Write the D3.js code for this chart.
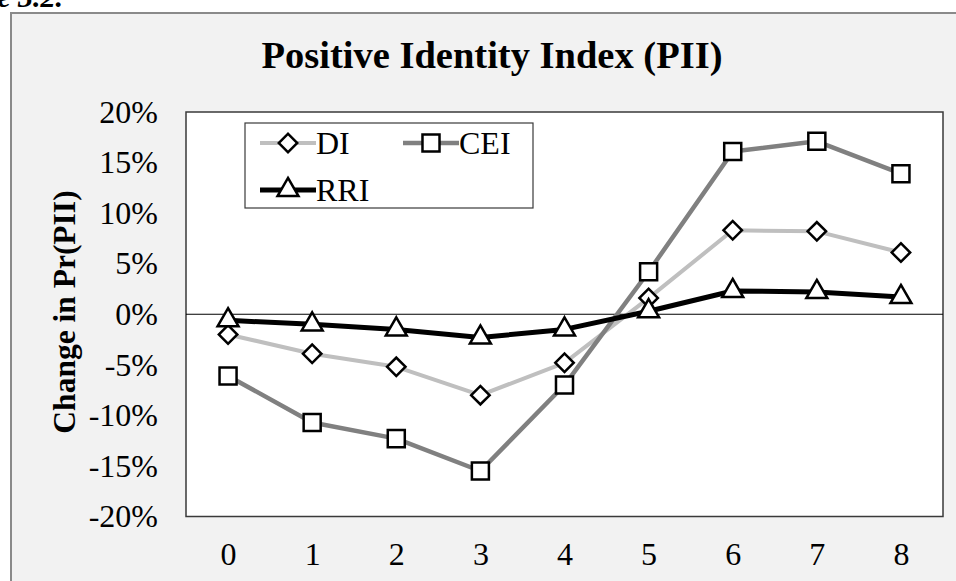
<!DOCTYPE html>
<html>
<head>
<meta charset="utf-8">
<title>Positive Identity Index (PII)</title>
<script src="https://d3js.org/d3.v7.min.js"></script>
<style>
  body { margin: 0; background: #ffffff; }
  svg { display: block; }
  .tick text { font-family: "Liberation Serif", "Times New Roman", serif; fill: #000; }
</style>
</head>
<body>
<div id="chart"></div>
<script>
// chart values (percent)
var categories = ["0", "1", "2", "3", "4", "5", "6", "7", "8"];
var diValues  = [-2.0, -3.9, -5.2, -8.0, -4.8, 1.6, 8.3, 8.2, 6.1];
var ceiValues = [-6.1, -10.7, -12.3, -15.5, -7.0, 4.2, 16.1, 17.1, 13.9];
var rriValues = [-0.6, -1.0, -1.5, -2.3, -1.5, 0.3, 2.3, 2.2, 1.7];
var yTicks = [-20, -15, -10, -5, 0, 5, 10, 15, 20];
var seriesNames = ["DI", "CEI", "RRI"];

var W = 956, H = 581;
var plot = {left: 186, top: 112, right: 943, bottom: 516.5};
var serif = '"Liberation Serif", "Times New Roman", serif';

var svg = d3.select("#chart").append("svg")
  .attr("width", W)
  .attr("height", H);

// caption cut off at the top of the figure
svg.append("text")
  .attr("x", 63).attr("y", 7)
  .attr("text-anchor", "end")
  .style("font-family", serif).style("font-weight", "bold").style("font-style", "italic")
  .style("font-size", "30px")
  .text("Figure 3.2.");

// chart area frame
svg.append("rect")
  .attr("x", 11).attr("y", 13)
  .attr("width", 960).attr("height", 600)
  .attr("fill", "#f2f2f2")
  .attr("stroke", "#8a8a8a")
  .attr("stroke-width", 2);

// plot area
svg.append("rect")
  .attr("x", plot.left).attr("y", plot.top)
  .attr("width", plot.right - plot.left).attr("height", plot.bottom - plot.top)
  .attr("fill", "#ffffff")
  .attr("stroke", "#3a3a3a")
  .attr("stroke-width", 1.5);

var x = d3.scalePoint().domain(categories).range([plot.left, plot.right]).padding(0.5);
var y = d3.scaleLinear().domain([-20, 20]).range([plot.bottom, plot.top]);

// axes
var yAxis = d3.axisLeft(y).tickValues(yTicks).tickSize(0).tickPadding(28)
  .tickFormat(function(d) { return d + "%"; });
var gy = svg.append("g").attr("transform", "translate(" + plot.left + ",0)").call(yAxis);
gy.select(".domain").remove();
gy.selectAll("text").style("font-size", "32px");

var xAxis = d3.axisBottom(x).tickSize(0).tickPadding(26);
var gx = svg.append("g").attr("transform", "translate(0," + plot.bottom + ")").call(xAxis);
gx.select(".domain").remove();
gx.selectAll("text").style("font-size", "32px");

// zero line
svg.append("line")
  .attr("x1", plot.left).attr("x2", plot.right)
  .attr("y1", y(0)).attr("y2", y(0))
  .attr("stroke", "#000").attr("stroke-width", 1.2);

// title
svg.append("text")
  .attr("x", 492).attr("y", 68)
  .attr("text-anchor", "middle")
  .style("font-family", serif).style("font-weight", "bold").style("font-size", "38.5px")
  .text("Positive Identity Index (PII)");

// y axis title
svg.append("text")
  .attr("transform", "translate(75,312) rotate(-90)")
  .attr("text-anchor", "middle")
  .style("font-family", serif).style("font-weight", "bold").style("font-size", "31.5px")
  .text("Change in Pr(PII)");

// series
var series = [
  {name: "DI",  values: diValues,  color: "#bfbfbf", width: 4, symbol: "diamond"},
  {name: "CEI", values: ceiValues, color: "#808080", width: 4.5, symbol: "square"},
  {name: "RRI", values: rriValues, color: "#000000", width: 5, symbol: "triangle"}
];

var line = d3.line()
  .x(function(d, i) { return x(categories[i]); })
  .y(function(d) { return y(d); });

var symbolPath = {
  diamond: d3.symbol().type(d3.symbolSquare).size(170)(),
  square: d3.symbol().type(d3.symbolSquare).size(290)(),
  triangle: d3.symbol().type(d3.symbolTriangle).size(190)()
};
var symbolRotate = {diamond: 45, square: 0, triangle: 0};

function marker(g, s, cx, cy) {
  g.append("path")
    .attr("d", symbolPath[s.symbol])
    .attr("transform", "translate(" + cx + "," + cy + ") rotate(" + symbolRotate[s.symbol] + ")")
    .attr("fill", "#ffffff")
    .attr("stroke", "#000000")
    .attr("stroke-width", 2.5);
}

series.forEach(function(s) {
  svg.append("path")
    .datum(s.values)
    .attr("d", line)
    .attr("fill", "none")
    .attr("stroke", s.color)
    .attr("stroke-width", s.width)
    .attr("stroke-linejoin", "round");
});
series.forEach(function(s) {
  var g = svg.append("g");
  s.values.forEach(function(v, i) {
    marker(g, s, x(categories[i]), y(v));
  });
});

// legend
var legend = svg.append("g");
legend.append("rect")
  .attr("x", 245).attr("y", 123)
  .attr("width", 288).attr("height", 85)
  .attr("fill", "#ffffff")
  .attr("stroke", "#3a3a3a")
  .attr("stroke-width", 1.2);

var legendPos = [
  {x: 260, y: 143},
  {x: 403, y: 143},
  {x: 260, y: 190}
];
series.forEach(function(s, i) {
  var p = legendPos[i];
  legend.append("line")
    .attr("x1", p.x).attr("x2", p.x + 56)
    .attr("y1", p.y).attr("y2", p.y)
    .attr("stroke", s.color).attr("stroke-width", s.width);
  marker(legend, s, p.x + 28, p.y);
  legend.append("text")
    .attr("x", p.x + 56).attr("y", p.y + 11)
    .style("font-family", serif).style("font-size", "32px")
    .text(seriesNames[i]);
});
</script>
</body>
</html>
